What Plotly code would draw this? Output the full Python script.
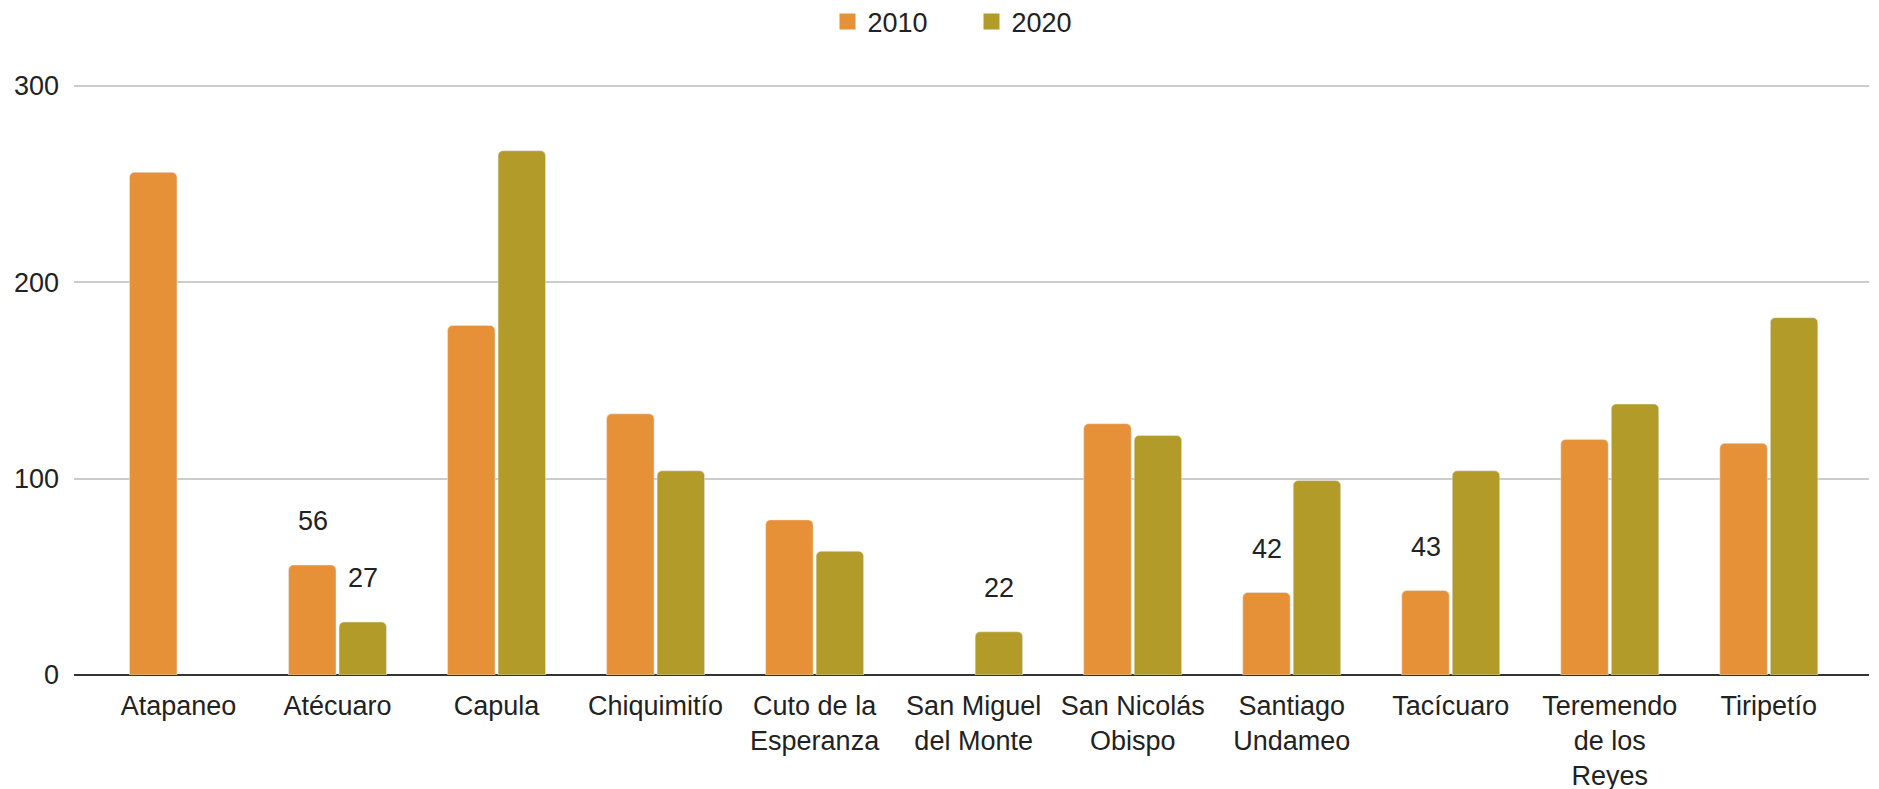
import plotly.graph_objects as go

categories = ["Atapaneo", "Atécuaro", "Capula", "Chiquimitío", "Cuto de la<br>Esperanza",
              "San Miguel<br>del Monte", "San Nicolás<br>Obispo", "Santiago<br>Undameo",
              "Tacícuaro", "Teremendo<br>de los<br>Reyes", "Tiripetío"]
vals_2010 = [256, 56, 178, 133, 79, None, 128, 42, 43, 120, 118]
vals_2020 = [None, 27, 267, 104, 63, 22, 122, 99, 104, 138, 182]
y_ticks = [0, 100, 200, 300]

c2010 = "#E69138"
c2020 = "#B29B29"
FONT = "Liberation Sans, Arial, sans-serif"
FS = 27
LABEL_MAX = 60

fig = go.Figure()
for name, vals, col in (("2010", vals_2010, c2010), ("2020", vals_2020, c2020)):
    fig.add_trace(go.Bar(x=categories, y=vals, name=name, marker_color=col,
                         showlegend=False, offsetgroup=name))
for name, col in (("2010", c2010), ("2020", c2020)):
    fig.add_trace(go.Scatter(x=[None], y=[None], mode="markers", name=name,
                             marker=dict(symbol="square", size=30, color=col)))

# data labels (only the small values are visible in the original)
for vals, shift in ((vals_2010, -25), (vals_2020, 25)):
    for c, v in zip(categories, vals):
        if v is not None and v < LABEL_MAX:
            fig.add_annotation(x=c, y=v, text=str(v), showarrow=False, xshift=shift,
                               yshift=44, yanchor="middle",
                               font=dict(size=FS, color="#222", family=FONT))

fig.update_layout(
    width=1879, height=789,
    margin=dict(l=66, r=18, t=76, b=122, autoexpand=False),
    paper_bgcolor="white", plot_bgcolor="white",
    font=dict(family=FONT, size=FS, color="#222"),
    barmode="group", bargap=0.365, bargroupgap=0.06,
    barcornerradius=5,
    legend=dict(orientation="h", x=0.5, xanchor="center", y=1.105, yanchor="middle",
                font=dict(size=FS), itemwidth=30, entrywidth=99, entrywidthmode="pixels",
                traceorder="normal", itemsizing="trace"),
)
fig.update_xaxes(range=[-0.657, 10.63], showgrid=False, showline=False, ticks="",
                 tickfont=dict(size=FS, color="#222"), fixedrange=True, automargin=False,
                 ticklabelstandoff=12)
fig.update_yaxes(range=[0, 301], tickvals=y_ticks, showgrid=True, gridcolor="#cccccc",
                 gridwidth=2, zeroline=True, zerolinecolor="#333333", zerolinewidth=2,
                 tickfont=dict(size=FS, color="#222"), ticks="", ticklabelstandoff=14,
                 automargin=False)

fig.write_html("out.html")
